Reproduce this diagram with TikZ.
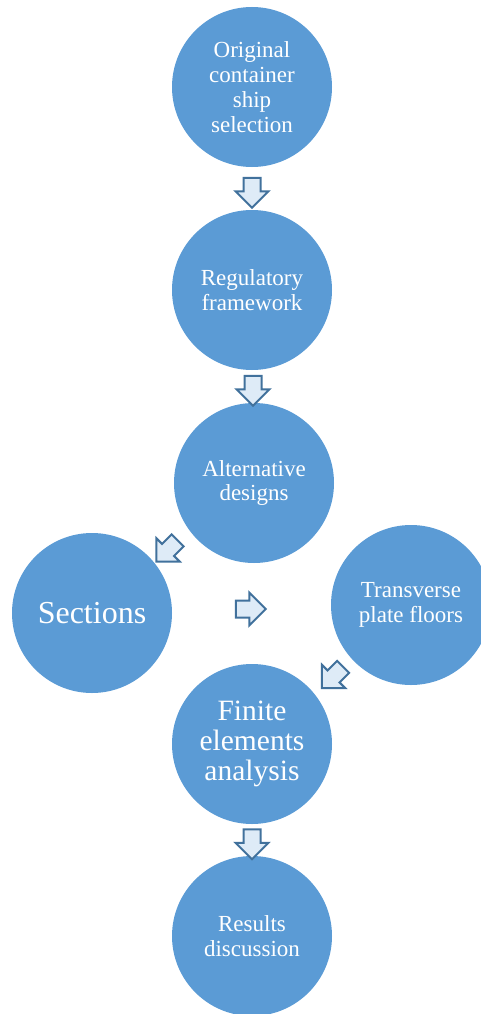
\documentclass[tikz,border=0pt]{standalone}
\usepackage{fontspec}
\setmainfont{Liberation Serif}
\usepackage{tikz}
\usetikzlibrary{positioning}
\usetikzlibrary{shapes.arrows}
\usetikzlibrary{calc}
\definecolor{stepblue}{HTML}{5B9BD5}
\definecolor{arrowfill}{HTML}{DEEBF7}
\definecolor{arrowline}{HTML}{41719C}
\tikzstyle{stage}=[circle,fill=stepblue,draw=none,minimum size=160pt,inner sep=0pt,text=white,align=center]
\tikzstyle{flow}=[single arrow,draw=arrowline,fill=arrowfill,line width=2pt,minimum height=30pt,minimum width=33pt,inner sep=7.5pt,single arrow head extend=8pt]
\begin{document}
\begin{tikzpicture}[x=1pt,y=-1pt]
    \useasboundingbox (0,0) rectangle (480,1014);
    % the stages of the study
    \foreach \pos/\name/\fs/\bs/\label in {{(252,87)/orig/23/24.8/{Original\\container\\ship\\selection}},
    {(252,290)/reg/23/24.8/{Regulatory\\framework}}, {(254,483)/alt/23/24.8/{Alternative\\designs}},
    {(92,613)/sec/32/34/{Sections}}, {(411,605)/trans/23/24.8/{Transverse\\plate floors}},
    {(252,744)/fea/29.5/30/{Finite\\elements\\analysis}}, {(252,936)/res/23/24.8/{Results\\discussion}}}
        \node[stage,font=\fontsize{\fs}{\bs}\selectfont] (\name) at \pos {\label};

    % block arrows between the stages
    \foreach \source/\dest/\angle/\dx in {orig/reg/-90/0, reg/alt/-90/0, alt/sec/-135/-3, sec/trans/0/-5, trans/fea/-135/4, fea/res/-90/0}
        \node[flow,rotate=\angle] at ($(\source)!0.5!(\dest)+(\dx,0)$) {};
\end{tikzpicture}
\end{document}
